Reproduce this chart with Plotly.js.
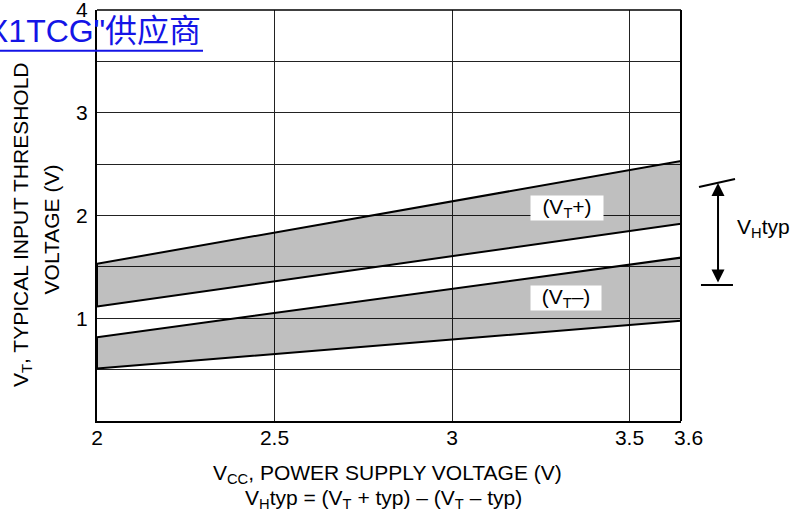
<!DOCTYPE html>
<html>
<head>
<meta charset="utf-8">
<script src="https://cdn.plot.ly/plotly-3.0.1.min.js"></script>
<style>html,body{margin:0;padding:0;background:#fff;}#chart{width:795px;height:521px;}</style>
</head>
<body>
<div id="chart"></div>
<script>
// ---- data ----
const vcc = [2.0, 3.645];            // band start / right edge (edge labelled 3.6)
const vtPlusMax  = [1.53, 2.53];     // (VT+) upper limit
const vtPlusMin  = [1.115, 1.92];    // (VT+) lower limit
const vtMinusMax = [0.815, 1.59];    // (VT-) upper limit
const vtMinusMin = [0.51, 0.975];    // (VT-) lower limit
const xTickVals = [2, 2.5, 3, 3.5];
const xTickText = ['2', '2.5', '3', '3.5'];
const xEndLabel = '3.6';
const yTickVals = [0, 0.5, 1, 1.5, 2, 2.5, 3, 3.5, 4];
const yTickText = ['', '', '1', '', '2', '', '3', '', '4'];

const FONT = 'Liberation Sans, Arial, Helvetica, sans-serif';
const FS = 21;

function band(lo, hi) {
  return {
    x: [vcc[0], vcc[1], vcc[1], vcc[0], vcc[0]],
    y: [lo[0], lo[1], hi[1], hi[0], lo[0]],
    type: 'scatter', mode: 'lines', fill: 'toself',
    fillcolor: 'rgba(0,0,0,0.25)',
    line: {color: '#000', width: 2},
    hoverinfo: 'skip', showlegend: false
  };
}

const traces = [band(vtPlusMin, vtPlusMax), band(vtMinusMin, vtMinusMax)];

const blue = 'rgb(20,20,230)';

const layout = {
  width: 795, height: 521,
  margin: {l: 97, r: 114, t: 10, b: 100},
  paper_bgcolor: '#fff', plot_bgcolor: '#fff',
  font: {family: FONT, size: FS, color: '#000'},
  showlegend: false,
  xaxis: {
    range: [vcc[0], vcc[1]], tickmode: 'array', tickvals: xTickVals, ticktext: xTickText,
    showgrid: true, gridcolor: '#222', gridwidth: 1, zeroline: false,
    showline: true, linecolor: '#000', linewidth: 2, ticks: '',
    tickfont: {family: FONT, size: FS, color: '#000'}, ticklabelstandoff: -3,
    ticklabeloverflow: 'allow', fixedrange: true
  },
  yaxis: {
    range: [0, 4], tickmode: 'array', tickvals: yTickVals, ticktext: yTickText,
    showgrid: true, gridcolor: '#222', gridwidth: 1, zeroline: false,
    showline: true, linecolor: '#000', linewidth: 2, ticks: '',
    tickfont: {family: FONT, size: FS, color: '#000'}, ticklabelstandoff: 3,
    ticklabeloverflow: 'allow', fixedrange: true
  },
  shapes: [
    {type: 'line', xref: 'paper', yref: 'paper', x0: 0, x1: 1, y0: 1, y1: 1, line: {color: '#000', width: 1.5}},
    {type: 'line', xref: 'paper', yref: 'paper', x0: 1, x1: 1, y0: 0, y1: 1, line: {color: '#000', width: 2}},
    // VH typ limit marks
    {type: 'line', xref: 'paper', yref: 'paper', x0: 1.0308, x1: 1.0925, y0: 0.5693, y1: 0.5888, line: {color: '#000', width: 2}},
    {type: 'line', xref: 'paper', yref: 'paper', x0: 1.0342, x1: 1.089, y0: 0.3309, y1: 0.3309, line: {color: '#000', width: 2}},
    // watermark underline
    {type: 'line', xref: 'paper', yref: 'paper', x0: -0.2, x1: 0.1815, y0: 0.901, y1: 0.901, line: {color: blue, width: 2}}
  ],
  annotations: [
    {text: '(V<sub>T</sub>+)', x: 3.323, y: 2.073, xref: 'x', yref: 'y', showarrow: false,
     bgcolor: '#fff', width: 70, height: 22, font: {size: FS}},
    {text: '(V<sub>T</sub>–)', x: 3.32, y: 1.199, xref: 'x', yref: 'y', showarrow: false,
     bgcolor: '#fff', width: 68, height: 22, font: {size: FS}},
    {text: xEndLabel, x: vcc[1], y: 0, xref: 'x', yref: 'y', xshift: 7, yanchor: 'middle', yshift: -16,
     showarrow: false, font: {size: FS}},
    // VH typ arrow
    {text: '', xref: 'paper', yref: 'paper', x: 1.0634, y: 0.579, axref: 'pixel', ayref: 'pixel',
     ax: 0, ay: 101, showarrow: true, arrowside: 'end+start', arrowhead: 2, arrowsize: 1.3,
     arrowwidth: 2, arrowcolor: '#000', standoff: 0, startstandoff: 0},
    {text: 'V<sub>H</sub>typ', xref: 'paper', yref: 'paper', x: 1.0925, y: 0.4696,
     xanchor: 'left', yanchor: 'middle', showarrow: false, font: {size: FS}},
    // y title
    {text: 'V<sub>T</sub>, TYPICAL INPUT THRESHOLD', xref: 'paper', yref: 'paper', x: -0.1284, y: 0.477,
     textangle: -90, showarrow: false, xanchor: 'center', yanchor: 'middle', font: {size: FS}},
    {text: 'VOLTAGE (V)', xref: 'paper', yref: 'paper', x: -0.0788, y: 0.466,
     textangle: -90, showarrow: false, xanchor: 'center', yanchor: 'middle', font: {size: FS}},
    // x title
    {text: 'V<sub>CC</sub>, POWER SUPPLY VOLTAGE (V)', xref: 'paper', yref: 'paper', x: 0.4974, y: -0.128,
     showarrow: false, xanchor: 'center', yanchor: 'middle', font: {size: FS}},
    {text: 'V<sub>H</sub>typ = (V<sub>T</sub> + typ) – (V<sub>T</sub> – typ)', xref: 'paper', yref: 'paper',
     x: 0.4914, y: -0.1905, showarrow: false, xanchor: 'center', yanchor: 'middle', font: {size: FS}},
    // watermark
    {text: 'X1TCG"供应商', xref: 'paper', yref: 'paper', x: 0.1815, y: 0.948, xanchor: 'right', yanchor: 'middle',
     showarrow: false, font: {family: 'Liberation Sans, Noto Sans CJK SC, sans-serif', size: 32, color: blue}}
  ]
};

Plotly.newPlot('chart', traces, layout, {staticPlot: true, displayModeBar: false});
</script>
</body>
</html>
